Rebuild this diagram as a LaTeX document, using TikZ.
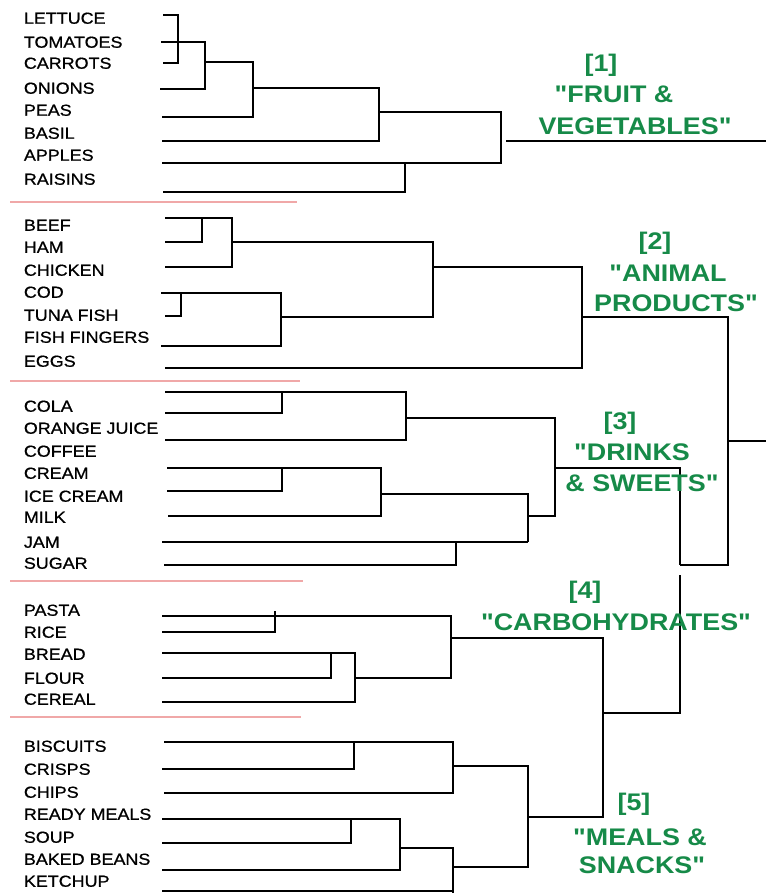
\documentclass[tikz,border=0pt]{standalone}
\usepackage{fontspec}
\newfontfamily\lblfont[FakeStretch=1.12]{Liberation Sans}
\newfontfamily\foodfont[FakeStretch=1.12, FakeBold=0.8]{Liberation Sans}
\definecolor{grpgreen}{RGB}{22,138,72}
\definecolor{seppink}{RGB}{240,168,168}
\tikzset{
  leaf/.style={anchor=west, inner sep=0pt, font=\foodfont\fontsize{16}{16}\selectfont, text height=11.5pt, text depth=0pt},
  grp/.style={inner sep=0pt, text=grpgreen, font=\lblfont\bfseries\fontsize{24}{24}\selectfont, text height=17.2pt, text depth=0pt},
  sep/.style={draw=seppink, line width=1.4pt}
}
\begin{document}
\begin{tikzpicture}[x=1pt, y=-1pt, line width=1.8pt]
\useasboundingbox (0,0) rectangle (766,893);

% food names
\foreach \t/\y [count=\i] in {LETTUCE/18, TOMATOES/42, CARROTS/63, ONIONS/88, PEAS/110, BASIL/133, APPLES/155, RAISINS/179,
  BEEF/225, HAM/247, CHICKEN/270, COD/292, TUNA FISH/315, FISH FINGERS/337, EGGS/361,
  COLA/406, ORANGE JUICE/428, COFFEE/451, CREAM/473, ICE CREAM/496, MILK/517, JAM/542, SUGAR/563,
  PASTA/610, RICE/632, BREAD/654, FLOUR/678, CEREAL/699,
  BISCUITS/746, CRISPS/769, CHIPS/792, READY MEALS/814, SOUP/837, BAKED BEANS/859, KETCHUP/881}
  \node[leaf] (food\i) at (23,\y) {\t};

% separators
\draw[sep] (10,202) -- (297,202);
\draw[sep] (10,381) -- (300,381);
\draw[sep] (10,581) -- (303,581);
\draw[sep] (10,717) -- (301,717);

% [1] fruit & vegetables
\draw (163,15) -| (178,63) -- (163,63);
\draw (161,42) -| (205,89) -- (160,89);
\draw (205,62) -| (253,117) -- (162,117);
\draw (253,88) -| (379,141) -- (162,141);
\draw (379,112) -| (501,163) -- (162,163);
\draw (163,192) -| (405,163);
\draw (506,141) -- (766,141);

% [2] animal products
\draw (165,218) -| (202,242) -- (165,242);
\draw (165,218) -| (232,267) -- (165,267);
\draw (232,242) -| (433,317) -- (281,317);
\draw (161,293) -| (181,316) -- (165,316);
\draw (161,293) -| (281,346) -- (161,346);
\draw (433,267) -| (582,368) -- (165,368);
\draw (582,317) -| (728,565) -- (680,565);
\draw (728,441) -- (766,441);

% [3] drinks & sweets
\draw (165,392) -| (282,413) -- (165,413);
\draw (165,392) -| (406,440) -- (165,440);
\draw (167,468) -| (282,491) -- (167,491);
\draw (167,468) -| (381,516) -- (168,516);
\draw (162,542) -- (528,542);
\draw (164,565) -| (456,542);
\draw (381,494) -| (528,542);
\draw (406,418) -| (555,516) -- (528,516);
\draw (555,468) -| (680,565);

% [4] carbohydrates
\draw (162,616) -| (451,678) -- (355,678);
\draw (275,611) -- (275,632) -- (162,632);
\draw (162,653) -| (331,678) -- (162,678);
\draw (162,653) -| (355,702) -- (162,702);
\draw (451,638) -| (603,817) -- (528,817);
\draw (603,713) -| (680,575);

% [5] meals & snacks
\draw (164,742) -| (354,769) -- (162,769);
\draw (164,742) -| (453,793) -- (164,793);
\draw (453,766) -| (528,867) -- (453,867);
\draw (162,819) -| (351,843) -- (162,843);
\draw (162,819) -| (400,870) -- (162,870);
\draw (400,848) -| (453,893);
\draw (162,891) -- (453,891);

% group names
\node[grp] (g1a) at (601,63) {[1]};
\node[grp] (g1b) at (614,94) {"FRUIT \&};
\node[grp] (g1c) at (635,126) {VEGETABLES"};
\node[grp] (g2a) at (655,241) {[2]};
\node[grp] (g2b) at (668,273) {"ANIMAL};
\node[grp] (g2c) at (676,303) {PRODUCTS"};
\node[grp] (g3a) at (620,421) {[3]};
\node[grp] (g3b) at (632,452) {"DRINKS};
\node[grp] (g3c) at (642,483) {\& SWEETS"};
\node[grp] (g4a) at (585,590) {[4]};
\node[grp] (g4b) at (616,622) {"CARBOHYDRATES"};
\node[grp] (g5a) at (634,802) {[5]};
\node[grp] (g5b) at (640,837) {"MEALS \&};
\node[grp] (g5c) at (642,865) {SNACKS"};
\end{tikzpicture}
\end{document}
